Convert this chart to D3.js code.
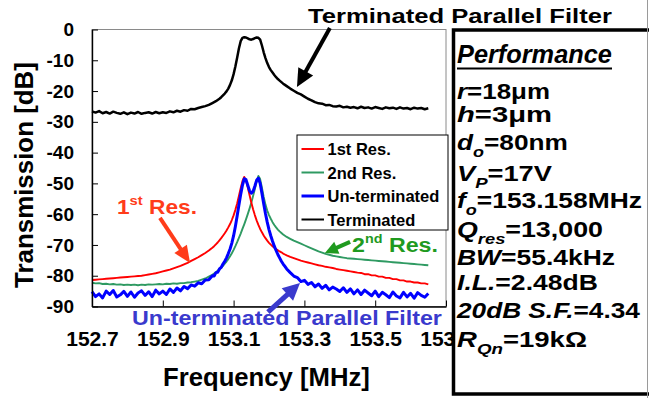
<!DOCTYPE html>
<html><head><meta charset="utf-8">
<script src="https://cdn.jsdelivr.net/npm/d3@7"></script>
<style>
body{margin:0;background:#fff}
text{font-family:"Liberation Sans",Arial,Helvetica,sans-serif;font-weight:bold}
</style>
</head><body>
<svg id="c" width="649" height="398"></svg>
<script>
// ---------------- data ----------------
const freqMHz = [
152.70,152.71,152.72,152.73,152.74,152.75,152.76,152.77,152.78,152.79,
152.80,152.81,152.82,152.83,152.84,152.85,152.86,152.87,152.88,152.89,
152.90,152.91,152.92,152.93,152.94,152.95,152.96,152.97,152.98,152.99,
153.00,153.01,153.02,153.03,153.04,
153.045,153.05,153.055,153.06,153.065,153.07,153.075,153.08,153.085,153.09,
153.095,153.10,153.105,153.11,153.115,153.12,153.125,153.13,153.135,153.14,
153.145,153.15,153.155,153.16,153.165,153.17,153.175,153.18,153.185,153.19,
153.195,153.20,153.205,153.21,153.215,153.22,153.225,153.23,153.235,153.24,
153.245,153.25,
153.26,153.27,153.28,153.29,153.30,153.31,153.32,153.33,153.34,153.35,
153.36,153.37,153.38,153.39,153.40,153.41,153.42,153.43,153.44,153.45,
153.46,153.47,153.48,153.49,153.50,153.51,153.52,153.53,153.54,153.55,
153.56,153.57,153.58,153.59,153.60,153.61,153.62,153.63,153.64,153.65];

const firstResDb = [
-81.4,-81.3,-81.2,-81.1,-81.0,-80.9,-80.8,-80.7,-80.6,-80.5,
-80.4,-80.3,-80.2,-80.1,-80.0,-79.8,-79.6,-79.4,-79.2,-78.9,
-78.6,-78.3,-78.0,-77.6,-77.2,-76.8,-76.3,-75.8,-75.2,-74.6,
-74.0,-73.3,-72.6,-71.8,-70.9,
-70.4,-69.8,-69.2,-68.5,-67.8,-67.0,-66.2,-65.3,-64.3,-63.2,
-61.9,-60.4,-58.6,-56.5,-54.1,-51.6,-49.3,-47.9,-49.0,-51.3,
-53.8,-56.2,-58.4,-60.3,-62.0,-63.5,-64.8,-65.9,-66.9,-67.8,
-68.6,-69.3,-69.9,-70.4,-70.9,-71.3,-71.7,-72.1,-72.4,-72.8,
-73.1,-73.4,
-73.9,-74.3,-74.7,-75.1,-75.4,-75.7,-76.0,-76.3,-76.6,-76.8,
-77.1,-77.3,-77.5,-77.8,-78.0,-78.2,-78.4,-78.6,-78.8,-79.0,
-79.1,-79.5,-79.5,-79.9,-79.9,-80.3,-80.3,-80.7,-80.7,-81.1,
-81.1,-81.5,-81.5,-81.9,-81.9,-82.2,-82.2,-82.5,-82.5,-82.8];

const secondResDb = [
-82.3,-82.5,-82.4,-82.7,-82.6,-82.8,-82.7,-82.9,-82.8,-83.0,
-82.9,-83.0,-82.9,-83.1,-82.9,-83.0,-82.8,-82.9,-82.8,-82.7,
-82.8,-82.6,-82.7,-82.5,-82.6,-82.4,-82.4,-82.2,-82.1,-81.9,
-81.7,-81.3,-80.9,-80.3,-79.7,
-79.3,-78.9,-78.4,-77.9,-77.4,-76.8,-76.1,-75.4,-74.6,-73.7,
-72.7,-71.6,-70.4,-69.1,-67.7,-66.3,-64.8,-63.3,-61.7,-60.0,
-58.2,-56.3,-54.1,-51.8,-49.4,-47.6,-48.6,-51.4,-54.4,-56.9,
-58.8,-60.3,-61.5,-62.6,-63.5,-64.3,-65.0,-65.6,-66.1,-66.6,
-67.0,-67.4,
-68.0,-68.6,-69.1,-69.6,-70.1,-70.6,-71.1,-71.6,-72.1,-72.5,
-72.9,-73.2,-73.5,-73.7,-73.9,-74.1,-74.3,-74.4,-74.5,-74.6,
-74.7,-74.8,-74.9,-75.0,-75.1,-75.2,-75.3,-75.4,-75.5,-75.6,
-75.7,-75.8,-75.9,-76.0,-76.1,-76.2,-76.3,-76.4,-76.5,-76.6];

const unterminatedDb = [
-85.2,-86.8,-85.9,-87.2,-85.0,-86.1,-84.8,-86.9,-86.2,-85.1,
-86.7,-85.3,-87.0,-85.6,-84.9,-86.4,-85.2,-86.8,-84.7,-85.9,
-85.0,-86.1,-84.3,-85.4,-84.0,-84.9,-83.5,-84.2,-83.0,-83.4,
-82.3,-82.6,-81.4,-81.3,-80.0,
-80.1,-79.0,-78.9,-77.8,-77.3,-76.2,-75.3,-74.2,-72.8,-71.3,
-69.4,-67.0,-64.0,-60.6,-57.0,-53.6,-50.6,-48.5,-48.8,-50.6,
-52.4,-53.2,-52.6,-50.9,-49.0,-48.3,-50.0,-53.2,-56.6,-59.8,
-62.6,-65.0,-67.0,-68.8,-70.4,-71.8,-73.1,-74.2,-75.3,-76.2,
-77.0,-77.8,
-79.0,-80.1,-80.6,-81.9,-81.5,-82.8,-82.2,-83.6,-82.7,-84.1,
-83.1,-84.6,-83.7,-84.3,-85.1,-83.9,-85.4,-84.3,-85.9,-84.6,
-86.1,-84.7,-85.6,-86.5,-85.0,-86.8,-85.4,-86.2,-87.1,-85.3,
-86.6,-87.2,-85.4,-86.9,-85.7,-87.3,-85.5,-86.4,-87.0,-85.8];

const terminatedDb = [
-26.6,-27.0,-26.5,-27.2,-26.8,-27.3,-26.7,-27.1,-27.4,-26.9,
-27.5,-27.0,-27.3,-26.8,-27.4,-27.1,-26.9,-27.3,-26.8,-27.2,
-26.9,-27.1,-26.6,-26.9,-26.4,-26.7,-26.2,-26.4,-25.8,-25.9,
-25.5,-25.2,-24.9,-24.5,-23.9,
-23.6,-23.3,-22.9,-22.5,-22.0,-21.4,-20.8,-20.1,-19.2,-18.0,
-16.5,-14.5,-12.0,-9.2,-6.2,-3.8,-2.7,-2.5,-2.6,-2.9,
-3.2,-3.3,-3.1,-2.8,-2.6,-2.7,-3.3,-5.2,-7.4,-9.3,
-10.9,-12.2,-13.2,-14.0,-14.8,-15.5,-16.1,-16.6,-17.1,-17.6,
-18.0,-18.4,
-19.2,-19.9,-20.6,-21.1,-21.8,-22.5,-23.0,-23.6,-24.0,-24.1,
-24.6,-24.5,-24.9,-25.0,-24.8,-25.3,-25.1,-25.4,-25.2,-25.6,
-25.1,-25.5,-25.3,-25.7,-25.2,-25.5,-25.8,-25.3,-25.6,-25.4,
-25.8,-25.3,-25.7,-25.5,-25.9,-25.4,-25.7,-25.5,-25.9,-25.6];

const xTicks = [152.7,152.9,153.1,153.3,153.5,153.7];
const xTickLabels = ["152.7","152.9","153.1","153.3","153.5","153.7"];
const yTicks = [0,-10,-20,-30,-40,-50,-60,-70,-80,-90];
const legendLabels = ["1st Res.","2nd Res.","Un-terminated","Terminated"];
const perfTitle = "Performance";
// each row: [text, italic, subscript]
const perfRows = [
 [["r",1,0],["=18\u03bcm",0,0]],
 [["h",1,0],["=3\u03bcm",0,0]],
 [["d",1,0],["o",1,1],["=80nm",0,0]],
 [["V",1,0],["P",1,1],["=17V",0,0]],
 [["f",1,0],["o",1,1],["=153.158MHz",0,0]],
 [["Q",1,0],["res",1,1],["=13,000",0,0]],
 [["BW",1,0],["=55.4kHz",0,0]],
 [["I.L.",1,0],["=2.48dB",0,0]],
 [["20dB S.F.",1,0],["=4.34",0,0]],
 [["R",1,0],["Qn",1,1],["=19k\u03a9",0,0]]
];

// ---------------- layout ----------------
const svg = d3.select("#c");
const x = d3.scaleLinear([152.7,153.7],[92,446]);
const y = d3.scaleLinear([0,-90],[29.5,306.5]);
const FONT = '"Liberation Sans",Arial,Helvetica,sans-serif';
const perfBase = [99,122,150,181,208,237,265,290,318,346.5];
const perfWidths = [93,95,111,95,185,146,158,141,183,130];

svg.append("rect").attr("width",649).attr("height",398).attr("fill","#fff");

function fit(t, tx, ty, width, rot){
  const w = t.node().getComputedTextLength();
  const s = width ? width / w : 1;
  t.attr("transform", `translate(${tx},${ty})${rot ? ` rotate(${rot})` : ""} scale(${s},1)`);
  return t;
}

// plot frame
svg.append("rect").attr("x",x(152.7)).attr("y",y(0))
  .attr("width",x(153.7)-x(152.7)).attr("height",y(-90)-y(0))
  .attr("fill","none").attr("stroke","#8a8a8a").attr("stroke-width",1);

// curves
const series = [
  {v:secondResDb, c:"#2f9a62", w:1.9},
  {v:firstResDb, c:"#ff0000", w:1.9},
  {v:unterminatedDb, c:"#0000ff", w:3},
  {v:terminatedDb, c:"#000000", w:2.5}
];
const line = d3.line().x(d=>x(d[0])).y(d=>y(d[1]));
series.forEach(s=>{
  const n = Math.min(freqMHz.length, s.v.length);
  const pts = d3.range(n).map(i=>[freqMHz[i], s.v[i]]);
  svg.append("path").attr("d", line(pts)).attr("fill","none")
    .attr("stroke", s.c).attr("stroke-width", s.w).attr("stroke-linejoin","round");
});

// axes
const gx = svg.append("g").attr("transform",`translate(0,${y(-90)})`)
  .call(d3.axisBottom(x).tickValues(xTicks).tickFormat((d,i)=>xTickLabels[i])
    .tickSize(-6).tickSizeOuter(0).tickPadding(25));
gx.attr("font-size",21).attr("font-family",FONT).attr("font-weight","bold");
gx.select(".domain").attr("stroke","#000").attr("stroke-width",1.6);
gx.selectAll(".tick line").attr("stroke","#000");
gx.selectAll(".tick text").attr("fill","#000");

const gy = svg.append("g").attr("transform",`translate(${x(152.7)},0)`)
  .call(d3.axisLeft(y).tickValues(yTicks).tickFormat(d=>String(d))
    .tickSize(-6).tickSizeOuter(0).tickPadding(18));
gy.attr("font-size",19).attr("font-family",FONT).attr("font-weight","bold");
gy.select(".domain").attr("stroke","#000").attr("stroke-width",1.4);
gy.selectAll(".tick line").attr("stroke","#000");
gy.selectAll(".tick text").attr("fill","#000");

// axis titles
fit(svg.append("text").attr("font-size",25).attr("text-anchor","start").text("Frequency [MHz]"), 163, 386, 207);
fit(svg.append("text").attr("font-size",25).attr("text-anchor","middle").text("Transmission [dB]"), 33, 175, 226, -90);

// legend
const lg = svg.append("g");
lg.append("rect").attr("x",297).attr("y",135).attr("width",151).attr("height",95)
  .attr("fill","#fff").attr("stroke","#000").attr("stroke-width",1);
const legColors = ["#ff0000","#2f9a62","#0000ff","#000000"];
const legW = [2,2,3,2];
legendLabels.forEach((lab,i)=>{
  const cy = 149 + i*23.5;
  lg.append("line").attr("x1",301.5).attr("x2",324).attr("y1",cy).attr("y2",cy)
    .attr("stroke",legColors[i]).attr("stroke-width",legW[i]);
  lg.append("text").attr("x",327.5).attr("y",cy+6).attr("font-size",16.5).attr("fill","#000").text(lab);
});

// arrows
function arrow(x1,y1,x2,y2,color,shaft,headL,headW){
  const dx=x2-x1, dy=y2-y1, L=Math.hypot(dx,dy), ux=dx/L, uy=dy/L, px=-uy, py=ux;
  const bx=x2-ux*headL, by=y2-uy*headL;
  svg.append("line").attr("x1",x1).attr("y1",y1).attr("x2",bx+ux).attr("y2",by+uy)
    .attr("stroke",color).attr("stroke-width",shaft);
  svg.append("path").attr("d",`M${x2},${y2}L${bx+px*headW/2},${by+py*headW/2}L${bx-px*headW/2},${by-py*headW/2}Z`)
    .attr("fill",color);
}
const cRed="#ff3c1a", cGreen="#1f9a1f", cBlue="#3a3acd";
arrow(x(152.892),y(-61.2),x(152.977),y(-75.9),cRed,4,17,15);
arrow(x(153.429),y(-69.0),x(153.358),y(-72.6),cGreen,4,13,13);
arrow(x(153.197),y(-91.8),x(153.2876),y(-82.4),cBlue,5,17,17);
arrow(x(153.372),y(0.5),x(153.279),y(-18.7),"#000",4,18,17);

// annotation texts
const t1 = svg.append("text").attr("font-size",20).attr("fill",cRed);
t1.append("tspan").text("1");
t1.append("tspan").attr("font-size",13).attr("dy",-9).text("st");
t1.append("tspan").attr("dy",9).text(" Res.");
fit(t1,117,214,80);

const t2 = svg.append("text").attr("font-size",21).attr("fill",cGreen);
t2.append("tspan").text("2");
t2.append("tspan").attr("font-size",13).attr("dy",-9).text("nd");
t2.append("tspan").attr("dy",9).text(" Res.");
fit(t2,352,251.5,86);

fit(svg.append("text").attr("font-size",21).attr("fill",cBlue).text("Un-terminated Parallel Filter"),132,325,310);
fit(svg.append("text").attr("font-size",21).attr("fill","#000").text("Terminated Parallel Filter"),308,23,304);

// performance box
svg.append("rect").attr("x",453.5).attr("y",30).attr("width",230).attr("height",364)
  .attr("fill","#fff").attr("stroke","#000").attr("stroke-width",3.5);
svg.append("line").attr("x1",647.5).attr("x2",647.5).attr("y1",0).attr("y2",398)
  .attr("stroke","#9a9a9a").attr("stroke-width",1);
fit(svg.append("text").attr("font-size",25).attr("font-style","italic").attr("fill","#000").text(perfTitle),457,63,155);
svg.append("line").attr("x1",457).attr("x2",612).attr("y1",68.5).attr("y2",68.5)
  .attr("stroke","#000").attr("stroke-width",2);
perfRows.forEach((row,i)=>{
  const t = svg.append("text").attr("font-size",22).attr("fill","#000");
  let sub = false;
  row.forEach(([s,it,sb])=>{
    const ts = t.append("tspan").text(s).attr("font-style", it ? "italic" : "normal");
    if (sb && !sub){ ts.attr("dy",7).attr("font-size",15); sub = true; }
    else if (sb){ ts.attr("font-size",15); }
    else if (!sb && sub){ ts.attr("dy",-7); sub = false; }
  });
  fit(t,457,perfBase[i],perfWidths[i]);
});
</script>
</body></html>
